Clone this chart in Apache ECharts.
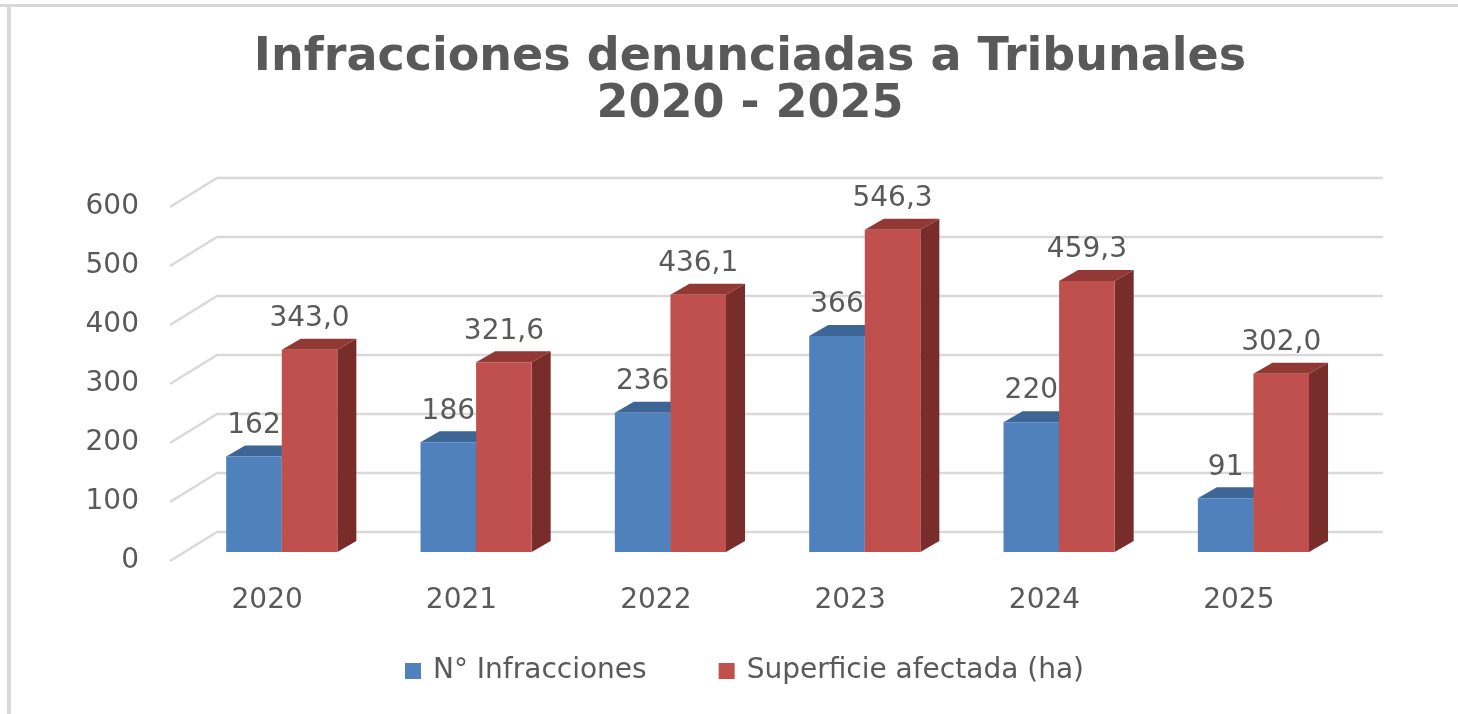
<!DOCTYPE html>
<html>
<head>
<meta charset="utf-8">
<script src="https://cdn.jsdelivr.net/npm/echarts@6/dist/echarts.min.js"></script>
<style>
  html, body { margin: 0; padding: 0; background: #fff; }
  #chart { width: 1458px; height: 714px; }
</style>
</head>
<body>
<div id="chart"></div>
<script>
const years = ['2020', '2021', '2022', '2023', '2024', '2025'];
const infracciones = [162, 186, 236, 366, 220, 91];
const superficie = [343.0, 321.6, 436.1, 546.3, 459.3, 302.0];
const gridValues = [0, 100, 200, 300, 400, 500, 600];

const TEXT = '#595959';
const FONT = 'DejaVu Sans';

// 3D look: wall depth and bar depth, in pixels
const WALL_DX = 47, WALL_DY = -29;
const PLANE_DX = 14.6, PLANE_DY = -9;
const BAR_DX = 19, BAR_DY = -11;

const colors = [
    { front: '#4F81BD', top: '#3D6595', side: '#2F5079' },
    { front: '#C0504D', top: '#923936', side: '#792D2B' },
];

function fmt(side, v) {
    return side === 0 ? String(v) : v.toFixed(1).replace('.', ',');
}

function barRenderer(side) {
    const c = colors[side];
    return function (params, api) {
        const idx = api.value(0);
        const val = api.value(1);
        const base = api.coord([idx, 0]);
        const top = api.coord([idx, val]);
        const w = api.size([1, 0])[0] * 0.286;
        const x0 = base[0] + PLANE_DX - (side === 0 ? w : 0);
        const x1 = x0 + w;
        const yb = base[1] + PLANE_DY;
        const yt = top[1] + PLANE_DY;
        return {
            type: 'group',
            children: [
                {
                    type: 'polygon',
                    shape: { points: [[x1, yt], [x1 + BAR_DX, yt + BAR_DY], [x1 + BAR_DX, yb + BAR_DY], [x1, yb]] },
                    style: { fill: c.side }
                },
                {
                    type: 'polygon',
                    shape: { points: [[x0, yt], [x1, yt], [x1 + BAR_DX, yt + BAR_DY], [x0 + BAR_DX, yt + BAR_DY]] },
                    style: { fill: c.top }
                },
                {
                    type: 'rect',
                    shape: { x: x0, y: yt, width: w, height: yb - yt },
                    style: { fill: c.front }
                },
                {
                    type: 'text',
                    style: {
                        text: fmt(side, val),
                        x: (x0 + x1) / 2,
                        y: yt - 31,
                        align: 'center',
                        verticalAlign: 'middle',
                        fill: TEXT,
                        fontSize: 28,
                        fontFamily: FONT
                    }
                }
            ]
        };
    };
}

function gridRenderer(params, api) {
    const cs = params.coordSys;
    const y = api.coord([0, api.value(0)])[1];
    return {
        type: 'polyline',
        shape: {
            points: [
                [cs.x, y],
                [cs.x + WALL_DX, y + WALL_DY],
                [cs.x + cs.width + WALL_DX, y + WALL_DY]
            ]
        },
        style: { stroke: '#D9D9D9', lineWidth: 2.5, fill: null }
    };
}

const chart = echarts.init(document.getElementById('chart'));

chart.setOption({
    backgroundColor: '#fff',
    animation: false,
    graphic: [
        { type: 'rect', shape: { x: 0, y: 4, width: 1458, height: 3 }, style: { fill: '#D9D9D9' } },
        { type: 'rect', shape: { x: 7, y: 4, width: 4, height: 710 }, style: { fill: '#D9D9D9' } }
    ],
    title: {
        text: 'Infracciones denunciadas a Tribunales\n2020 - 2025',
        left: 745,
        textAlign: 'center',
        top: 30,
        textStyle: {
            fontFamily: FONT,
            fontSize: 46,
            fontWeight: 'bold',
            lineHeight: 47,
            color: TEXT
        }
    },
    legend: {
        data: ['N° Infracciones', 'Superficie afectada (ha)'],
        left: 400,
        top: 652,
        icon: 'rect',
        itemWidth: 16,
        itemHeight: 16,
        itemGap: 72,
        textStyle: { fontFamily: FONT, fontSize: 28, color: TEXT, padding: [0, 0, 0, 7] }
    },
    grid: { left: 170, top: 207, width: 1166, height: 354 },
    xAxis: {
        type: 'category',
        data: years,
        axisLine: { show: false },
        axisTick: { show: false },
        axisLabel: { margin: 26, fontFamily: FONT, fontSize: 28, color: TEXT }
    },
    yAxis: {
        type: 'value',
        min: 0,
        max: 600,
        interval: 100,
        splitLine: { show: false },
        axisLine: { show: false },
        axisTick: { show: false },
        axisLabel: { margin: 31, fontFamily: FONT, fontSize: 28, color: TEXT }
    },
    series: [
        {
            type: 'custom',
            name: 'grid',
            silent: true,
            z: 0,
            renderItem: gridRenderer,
            encode: { y: 0 },
            data: gridValues.map(v => [v])
        },
        {
            type: 'custom',
            name: 'N° Infracciones',
            z: 2,
            itemStyle: { color: colors[0].front },
            renderItem: barRenderer(0),
            encode: { x: 0, y: 1 },
            data: infracciones.map((v, i) => [i, v])
        },
        {
            type: 'custom',
            name: 'Superficie afectada (ha)',
            z: 3,
            itemStyle: { color: colors[1].front },
            renderItem: barRenderer(1),
            encode: { x: 0, y: 1 },
            data: superficie.map((v, i) => [i, v])
        }
    ]
});
</script>
</body>
</html>
